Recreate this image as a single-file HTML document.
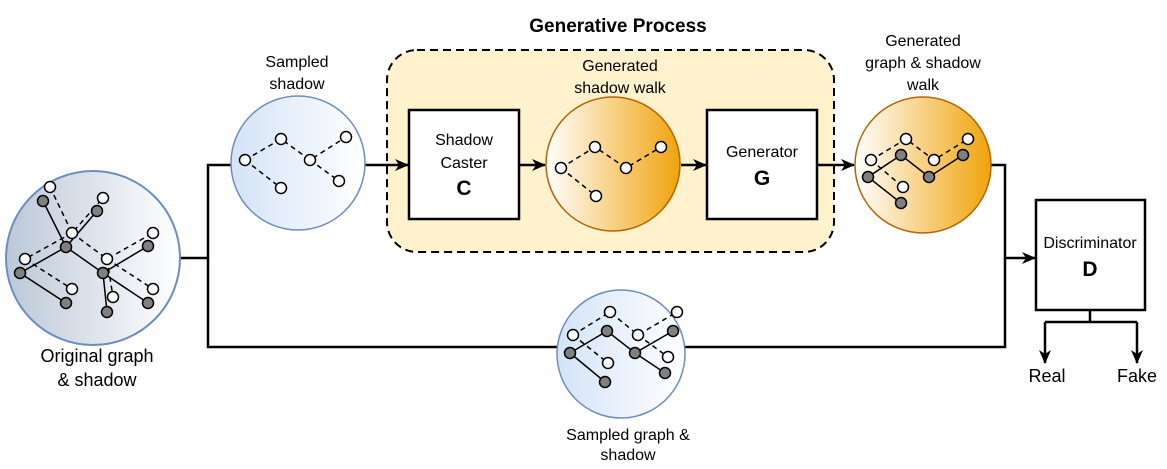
<!DOCTYPE html>
<html><head><meta charset="utf-8"><style>
html,body{margin:0;padding:0;background:#fff}
svg{display:block}
text{font-family:"Liberation Sans",Arial,sans-serif}
</style></head><body>
<svg width="1167" height="469" viewBox="0 0 1167 469" xmlns="http://www.w3.org/2000/svg">
<defs>
<linearGradient id="gray" x1="0" x2="1" y1="0" y2="0"><stop offset="0" stop-color="#bcc8d8"/><stop offset="1" stop-color="#ffffff"/></linearGradient>
<linearGradient id="blue" x1="0" x2="1" y1="0" y2="0"><stop offset="0" stop-color="#d4e3f7"/><stop offset="1" stop-color="#ffffff"/></linearGradient>
<linearGradient id="orange" x1="0" x2="1" y1="0" y2="0"><stop offset="0" stop-color="#ffffff"/><stop offset="1" stop-color="#f0a30a"/></linearGradient>
<marker id="ar" markerWidth="14" markerHeight="14" refX="13" refY="7" orient="auto" markerUnits="userSpaceOnUse"><path d="M0,1 L14,7 L0,13 L4,7 Z" fill="#000"/></marker>
</defs>

<text x="618" y="32" font-size="19" font-weight="bold" text-anchor="middle">Generative Process</text>
<rect x="387" y="50" width="447" height="202" rx="30" fill="#fff2cc" stroke="#000" stroke-width="2" stroke-dasharray="8,5"/>

<g stroke="#000" stroke-width="2.5" fill="none">
<path d="M180,258 H208 V347 H557"/>
<path d="M208,258 V165 H231"/>
<path d="M365,165 H408" marker-end="url(#ar)"/>
<path d="M520,165 H545" marker-end="url(#ar)"/>
<path d="M681,165 H706" marker-end="url(#ar)"/>
<path d="M817,165 H854" marker-end="url(#ar)"/>
<path d="M991,165 H1005 V258 H1035" marker-end="url(#ar)"/>
<path d="M685,347 H1005 V258"/>
<path d="M1090,310 V322 M1045,322 H1137"/>
<path d="M1045,322 V363" marker-end="url(#ar)"/>
<path d="M1137,322 V363" marker-end="url(#ar)"/>
</g>

<circle cx="93" cy="258" r="87" fill="url(#gray)" stroke="#6c8ebf" stroke-width="2"/>
<circle cx="298" cy="163" r="67" fill="url(#blue)" stroke="#6c8ebf" stroke-width="1.5"/>
<circle cx="613" cy="164" r="67" fill="url(#orange)" stroke="#b46504" stroke-width="1.5"/>
<circle cx="923" cy="165" r="68" fill="url(#orange)" stroke="#b46504" stroke-width="1.5"/>
<circle cx="621" cy="354" r="64" fill="url(#blue)" stroke="#6c8ebf" stroke-width="1.5"/>

<rect x="409" y="110" width="110" height="109" fill="#fff" stroke="#000" stroke-width="2.5"/>
<rect x="707" y="110" width="110" height="109" fill="#fff" stroke="#000" stroke-width="2.5"/>
<rect x="1036" y="200" width="109" height="110" fill="#fff" stroke="#000" stroke-width="2.5"/>
<text x="464" y="145" font-size="16" text-anchor="middle">Shadow</text>
<text x="464" y="168" font-size="16" text-anchor="middle">Caster</text>
<text x="464" y="195" font-size="21" font-weight="bold" text-anchor="middle">C</text>
<text x="762" y="157" font-size="16" text-anchor="middle">Generator</text>
<text x="762" y="185" font-size="21" font-weight="bold" text-anchor="middle">G</text>
<text x="1090" y="248" font-size="16" text-anchor="middle">Discriminator</text>
<text x="1090" y="276" font-size="21" font-weight="bold" text-anchor="middle">D</text>

<g font-size="16" text-anchor="middle">
<text x="297" y="67">Sampled</text><text x="297" y="89">shadow</text>
<text x="620" y="71">Generated</text><text x="620" y="93">shadow walk</text>
<text x="923" y="46">Generated</text><text x="923" y="68">graph &amp; shadow</text><text x="923" y="90">walk</text>
<text x="97" y="362" font-size="18">Original graph</text><text x="97" y="386" font-size="18">&amp; shadow</text>
<text x="628" y="440">Sampled graph &amp;</text><text x="628" y="460">shadow</text>
<text x="1047" y="382" font-size="18">Real</text><text x="1137" y="382" font-size="18">Fake</text>
</g>

<g stroke="#000" stroke-width="1.5" fill="none">
<path d="M43,201 L66,247 L97,211 M66,247 L20,273 L66,303 M66,247 L103,273 L148,246 M103,273 L148,303 M103,273 L107,312"/>
<path stroke-dasharray="5,4" d="M50,187 L72,233 L103,198 M72,233 L25,259 L72,289 M72,233 L107,259 L153,233 M107,259 L153,289 M107,259 L113,297"/>
<path stroke-dasharray="5,4" d="M245,160 L281,139 L310,160 L346,137 M245,160 L281,188 M310,160 L339,181"/>
<path stroke-dasharray="5,4" d="M561,168 L595,147 L626,168 L661,147 M561,168 L596,196"/>
<path d="M868,177 L901,155 L929,177 L963,155 M868,177 L901,203"/>
<path stroke-dasharray="5,4" d="M871,160 L906,139 L934,160 L968,139 M871,160 L903,187"/>
<path d="M570,353 L607,331 L635,353 L673,331 M570,353 L605,382 M635,353 L665,373"/>
<path stroke-dasharray="5,4" d="M573,335 L610,312 L638,335 L677,312 M573,335 L608,363 M638,335 L668,357"/>
</g>

<g stroke="#000" stroke-width="1.5">
<g fill="#fff">
<circle cx="50" cy="187" r="5.5"/><circle cx="103" cy="198" r="5.5"/><circle cx="72" cy="233" r="5.5"/><circle cx="25" cy="259" r="5.5"/><circle cx="107" cy="259" r="5.5"/><circle cx="153" cy="233" r="5.5"/><circle cx="72" cy="289" r="5.5"/><circle cx="113" cy="297" r="5.5"/><circle cx="153" cy="289" r="5.5"/>
<circle cx="245" cy="160" r="5.5"/><circle cx="281" cy="139" r="5.5"/><circle cx="310" cy="160" r="5.5"/><circle cx="346" cy="137" r="5.5"/><circle cx="281" cy="188" r="5.5"/><circle cx="339" cy="181" r="5.5"/>
<circle cx="561" cy="168" r="5.5"/><circle cx="595" cy="147" r="5.5"/><circle cx="626" cy="168" r="5.5"/><circle cx="661" cy="147" r="5.5"/><circle cx="596" cy="196" r="5.5"/>
<circle cx="871" cy="160" r="5.5"/><circle cx="906" cy="139" r="5.5"/><circle cx="934" cy="160" r="5.5"/><circle cx="968" cy="139" r="5.5"/><circle cx="903" cy="187" r="5.5"/>
<circle cx="573" cy="335" r="5.5"/><circle cx="610" cy="312" r="5.5"/><circle cx="638" cy="335" r="5.5"/><circle cx="677" cy="312" r="5.5"/><circle cx="608" cy="363" r="5.5"/><circle cx="668" cy="357" r="5.5"/>
</g>
<g fill="#808080">
<circle cx="43" cy="201" r="5.5"/><circle cx="97" cy="211" r="5.5"/><circle cx="66" cy="247" r="5.5"/><circle cx="20" cy="273" r="5.5"/><circle cx="103" cy="273" r="5.5"/><circle cx="148" cy="246" r="5.5"/><circle cx="66" cy="303" r="5.5"/><circle cx="107" cy="312" r="5.5"/><circle cx="148" cy="303" r="5.5"/>
<circle cx="868" cy="177" r="5.5"/><circle cx="901" cy="155" r="5.5"/><circle cx="929" cy="177" r="5.5"/><circle cx="963" cy="155" r="5.5"/><circle cx="901" cy="203" r="5.5"/>
<circle cx="570" cy="353" r="5.5"/><circle cx="607" cy="331" r="5.5"/><circle cx="635" cy="353" r="5.5"/><circle cx="673" cy="331" r="5.5"/><circle cx="605" cy="382" r="5.5"/><circle cx="665" cy="373" r="5.5"/>
</g>
</g>
</svg>
</body></html>
